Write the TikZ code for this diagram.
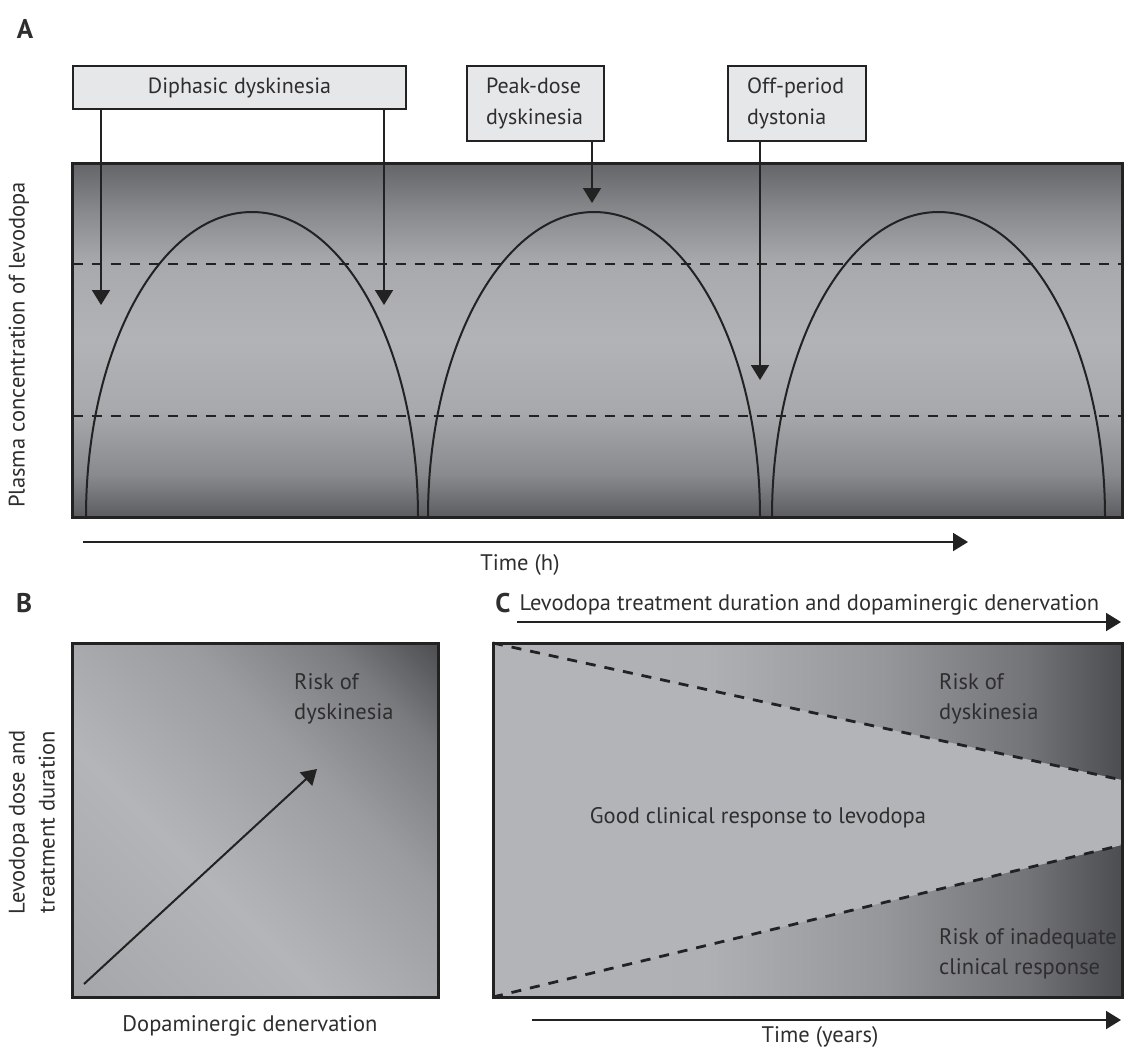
\documentclass[tikz,border=0pt]{standalone}
\usepackage{fontspec}
\setmainfont{PT Sans}
\usetikzlibrary{arrows.meta,calc}
\definecolor{ln}{HTML}{222222}
\definecolor{txt}{HTML}{2E2E2E}
\definecolor{boxfill}{HTML}{E6E7E8}
\definecolor{wedge}{HTML}{B3B4B8}
\definecolor{cA0}{HTML}{5C5D61}
\definecolor{cA1}{HTML}{898A8E}
\definecolor{cA2}{HTML}{A8A9AD}
\definecolor{cA3}{HTML}{B2B3B7}
\definecolor{cA0t}{HTML}{646569}
\definecolor{cC0}{HTML}{B2B3B7}
\definecolor{cC1}{HTML}{AFB0B4}
\definecolor{cC2}{HTML}{96979B}
\definecolor{cC3}{HTML}{737478}
\definecolor{cC4}{HTML}{4C4D51}
\definecolor{cB0}{HTML}{A5A6AA}
\definecolor{cB1}{HTML}{B4B5B9}
\definecolor{cB2}{HTML}{9B9CA0}
\definecolor{cB3}{HTML}{7A7B7F}
\definecolor{cB4}{HTML}{4D4E52}
\pgfdeclareverticalshading{shA}{100bp}{color(0bp)=(cA0); color(25bp)=(cA0); color(31bp)=(cA1); color(40bp)=(cA2); color(50bp)=(cA3); color(61bp)=(cA2); color(68bp)=(cA1); color(75bp)=(cA0t); color(100bp)=(cA0t)}
\pgfdeclarehorizontalshading{shC}{100bp}{color(0bp)=(cC0); color(25bp)=(cC0); color(42bp)=(cC1); color(56bp)=(cC2); color(67.5bp)=(cC3); color(75bp)=(cC4); color(100bp)=(cC4)}
\pgfdeclarehorizontalshading{shB}{100bp}{color(0bp)=(cB0); color(14.6bp)=(cB0); color(39.4bp)=(cB1); color(60.6bp)=(cB2); color(74.8bp)=(cB3); color(85.4bp)=(cB4); color(100bp)=(cB4)}
\begin{document}
\begin{tikzpicture}[x=1pt,y=1pt,
  lbl/.style={font=\fontsize{22.5}{30}\selectfont, text=txt, inner sep=0pt},
  plabel/.style={font=\fontsize{27}{30}\selectfont\bfseries, text=txt, inner sep=0pt},
  tag/.style={draw=ln, line width=2.5pt, fill=boxfill, font=\fontsize{22}{31}\selectfont, text=txt, inner sep=0pt},
  arr/.style={line width=2pt, draw=ln, -{Triangle[length=15pt,width=18pt]}},
  dsh/.style={line width=2.8pt, draw=ln, dash pattern=on 10pt off 9pt},
  curve/.style={line width=2pt, draw=ln},
  frame/.style={line width=3pt, draw=ln},
  panel/.style={frame, inner sep=0pt, outer sep=0pt}]
\useasboundingbox (0,0) rectangle (1124,-1050);
% ---------------- Panel A ----------------
\node[plabel] (la) at (25,-29) {A};
\node[panel, shading=shA, minimum width=1049.5pt, minimum height=354pt] (pa) at (597.25,-340) {};
\coordinate (d1) at (0,-264);
\coordinate (d2) at (0,-416);
\draw[dsh] (pa.west |- d1) -- (pa.east |- d1);
\draw[dsh] (pa.west |- d2) -- (pa.east |- d2);
\draw[curve] (86,-517) arc[start angle=180,end angle=0,x radius=166,y radius=305];
\draw[curve] (428,-517) arc[start angle=180,end angle=0,x radius=166,y radius=305];
\draw[curve] (772,-517) arc[start angle=180,end angle=0,x radius=166.5,y radius=305];
\draw[frame] (pa.south west) rectangle (pa.north east);
\node[tag, minimum width=333pt, minimum height=43pt] (diph) at (239.5,-87.5) {Diphasic dyskinesia};
\node[tag, minimum width=137pt, minimum height=75pt, text width=99pt, align=left, inner xsep=19pt] (peak) at (535.5,-103.5) {Peak-dose\\dyskinesia};
\node[tag, minimum width=138pt, minimum height=75pt, text width=100pt, align=left, inner xsep=19pt] (off) at (797,-103.5) {Off-period\\dystonia};
\coordinate (t1) at (101,-305);
\coordinate (t2) at (384,-305);
\coordinate (t3) at (592,-203);
\coordinate (t4) at (760,-380);
\draw[arr] (diph.south -| t1) -- (t1);
\draw[arr] (diph.south -| t2) -- (t2);
\draw[arr] (peak.south -| t3) -- (t3);
\draw[arr] (off.south -| t4) -- (t4);
\node[lbl, rotate=90] (ya) at (19,-345) {Plasma concentration of levodopa};
\coordinate (ta0) at (83,-542);
\coordinate (ta1) at (968,-542);
\draw[arr] (ta0) -- (ta1);
\node[lbl] (th) at (520,-565) {Time (h)};
% ---------------- Panel B ----------------
\node[plabel] (lb) at (24,-603) {B};
\node[panel, shading=shB, shading angle=45, minimum width=366pt, minimum height=354pt] (pb) at (255.5,-820) {};
\node[lbl, align=left, anchor=west] (rb) at (294,-699) {Risk of\\dyskinesia};
\coordinate (ba0) at (84,-984);
\coordinate (ba1) at (317,-769);
\draw[arr] (ba0) -- (ba1);
\node[lbl, rotate=90, align=center] (yb) at (32,-822) {Levodopa dose and\\treatment duration};
\node[lbl] (xb) at (250,-1026) {Dopaminergic denervation};
% ---------------- Panel C ----------------
\node[plabel] (lc) at (503,-603) {C};
\node[lbl] (hc) at (809.5,-605) {Levodopa treatment duration and dopaminergic denervation};
\coordinate (ca0) at (517,-622);
\coordinate (ca1) at (1121,-622);
\draw[arr] (ca0) -- (ca1);
\node[panel, shading=shC, minimum width=629pt, minimum height=354pt] (pc) at (807.5,-820) {};
\coordinate (w1) at ($(pc.north east)+(0,-137)$);
\coordinate (w2) at ($(pc.south east)+(0,152)$);
\fill[wedge] (pc.north west) -- (w1) -- (w2) -- (pc.south west) -- cycle;
\draw[dsh] (pc.north west) -- (w1);
\draw[dsh] (pc.south west) -- (w2);
\draw[frame] (pc.south west) rectangle (pc.north east);
\node[lbl, align=left, anchor=west] (rc1) at (939,-698.5) {Risk of\\dyskinesia};
\node[lbl] (gc) at (758,-818) {Good clinical response to levodopa};
\node[lbl, align=left, anchor=west] (rc2) at (939,-953.5) {Risk of inadequate\\clinical response};
\coordinate (cb0) at (532,-1020);
\coordinate (cb1) at (1121,-1020);
\draw[arr] (cb0) -- (cb1);
\node[lbl] (xc) at (820,-1037) {Time (years)};
\end{tikzpicture}
\end{document}
